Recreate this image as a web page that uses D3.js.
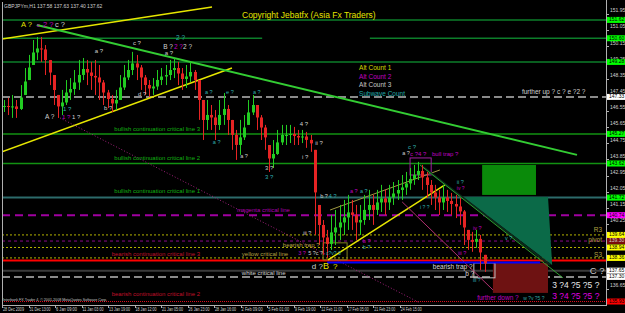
<!DOCTYPE html>
<html>
<head>
<meta charset="utf-8">
<script src="https://cdn.jsdelivr.net/npm/d3@7"></script>
<style>
  body { margin: 0; background: #000; }
  svg { display: block; font-family: "Liberation Sans", Arial, sans-serif; }
</style>
</head>
<body>
<script>
// ---- data ----
var barsPerSlot = 10;      // each candle below stands for ~10 H1 bars
var barsPerTick = 64;

var dateLabels = ["28 Dec 2009", "31 Dec 13:00", "6 Jan 09:00", "11 Jan 03:00", "13 Jan 19:00",
  "18 Jan 12:00", "21 Jan 05:00", "26 Jan 23:00", "28 Jan 16:00", "2 Feb 09:00", "5 Feb 01:00",
  "9 Feb 19:00", "12 Feb 11:00", "17 Feb 05:00", "21 Feb 23:00", "24 Feb 15:00"];

var priceTicks = [151.95, 151.05, 150.15, 149.25, 148.35, 147.45, 146.55, 145.65, 144.75,
  143.85, 142.95, 142.05, 141.15, 140.25, 136.65];

var candleHigh = [147.16, 147.27, 147.44, 147.16, 147.99, 148.94, 149.67, 150.50, 150.67, 150.67,
  150.22, 149.39, 148.55, 147.44, 147.72, 148.27, 148.38, 148.83, 149.39, 149.50,
  149.39, 149.28, 149.39, 149.11, 148.27, 147.72, 147.44, 147.72, 148.55, 149.11,
  149.39, 149.84, 149.67, 149.11, 148.55, 148.27, 148.38, 148.83, 148.94, 149.11,
  149.39, 149.50, 149.28, 148.94, 149.11, 149.28, 148.83, 148.27, 147.16, 147.16,
  146.88, 146.60, 147.16, 147.55, 146.88, 146.05, 145.49, 146.05, 146.32, 147.16,
  147.44, 146.88, 146.32, 145.77, 144.65, 144.93, 145.49, 145.77, 145.77, 145.77,
  145.66, 145.49, 145.49, 145.38, 145.21, 144.38, 141.31, 140.47, 139.92, 140.75,
  141.03, 141.31, 141.59, 141.87, 141.59, 141.31, 141.31, 141.87, 142.15, 141.87,
  142.15, 142.43, 142.15, 142.43, 142.59, 142.70, 142.98, 143.15, 143.37, 143.54,
  143.71, 143.54, 143.15, 142.70, 142.43, 142.15, 142.43, 142.15, 141.98, 141.87,
  141.70, 141.03, 139.92, 139.81, 139.92, 139.64, 138.53];

var candleLow = [146.49, 146.32, 146.16, 146.16, 146.60, 147.44, 148.27, 149.11, 149.39, 149.28,
  148.55, 147.99, 146.88, 146.16, 146.32, 146.88, 147.16, 147.44, 147.72, 148.27,
  147.99, 147.72, 147.44, 147.16, 146.88, 146.71, 146.49, 146.60, 147.16, 147.72,
  148.27, 148.55, 148.27, 147.72, 147.44, 147.33, 147.44, 147.72, 147.99, 147.99,
  148.27, 148.38, 147.99, 147.72, 147.83, 148.16, 147.72, 146.05, 144.93, 145.49,
  145.49, 144.93, 145.49, 145.77, 145.21, 144.38, 143.82, 144.10, 144.93, 145.77,
  146.32, 145.49, 144.93, 144.38, 143.15, 143.37, 144.10, 144.65, 144.65, 144.76,
  144.65, 144.65, 144.76, 144.49, 144.27, 139.64, 139.08, 138.53, 138.36, 138.81,
  139.08, 139.36, 139.64, 139.92, 139.92, 139.36, 139.64, 140.20, 140.47, 140.20,
  140.75, 140.92, 140.75, 141.03, 141.31, 141.59, 141.59, 141.87, 142.15, 142.43,
  142.70, 142.15, 141.70, 141.31, 141.03, 140.75, 141.03, 140.92, 140.75, 140.58,
  140.20, 139.08, 138.81, 138.70, 138.92, 137.69, 137.58];

// horizontal levels (price, line style, price box on the axis)
var levels = [
  { p: 151.62, stroke: "#0c7e2a", w: 1.5, box: "#00ff00" },
  { p: 150.60, stroke: "#0c7e2a", w: 1.5, box: "#00ff00", gap: [628, 888] },
  { p: 149.28, stroke: "#0c7e2a", w: 1.5, box: "#00ff00" },
  { p: 147.33, stroke: "#8a8a8a", w: 2, dash: "8,4", box: "#ffffff" },
  { p: 145.27, stroke: "#129212", w: 1.5, box: "#00ff00" },
  { p: 143.62, stroke: "#129212", w: 1.5, box: "#00ff00" },
  { p: 141.72, stroke: "#2c6b6b", w: 2, box: "#00ff00" },
  { p: 140.74, stroke: "#a000a0", w: 2, dash: "8,5", box: "#ff00ff" },
  { p: 139.64, stroke: "#b4b400", w: 1, dash: "2,2", box: "#ffff00" },
  { p: 139.30, stroke: "#8a0a8a", w: 1, dash: "3,3", box: "#7a0a0a", fg: "#d0d0d0" },
  { p: 138.94, stroke: "#b4b400", w: 1, dash: "2,2", box: "#ffff00" },
  { p: 138.36, stroke: "#b4b400", w: 1, dash: "2,2", box: "#ffff00" },
  { p: 138.22, stroke: "#ff0000", w: 2 },
  { p: 137.65, stroke: "#3a3a3a", w: 2, box: "#ffffff" },
  { p: 137.30, stroke: "#8a8a8a", w: 2, dash: "8,4", box: "#ffffff" },
  { p: 135.93, stroke: "#e01020", w: 1, dash: "1,1", box: "#ff0000" }
];

// sloped lines, in (bar, price)
var trendLines = [
  { b0: 0, p0: 150.56, b1: 507, p1: 152.34, stroke: "#e6e600", w: 1.5 },
  { b0: 0, p0: 144.27, b1: 555, p1: 148.94, stroke: "#e6e600", w: 1.5 },
  { b0: 84, p0: 151.34, b1: 1388, p1: 144.10, stroke: "#33cc33", w: 2 },
  { b0: 140, p0: 146.16, b1: 1009, p1: 135.85, stroke: "#a0207a", w: 1, dash: "1,2" },
  { b0: 787, p0: 138.25, b1: 1069, p1: 142.43, stroke: "#e6e600", w: 1.5 },
  { b0: 792, p0: 141.03, b1: 1057, p1: 143.26, stroke: "#a09a40", w: 1 },
  { b0: 966, p0: 141.48, b1: 1185, p1: 136.58, stroke: "#b03070", w: 1 },
  { b0: 785, p0: 138.10, b1: 1299, p1: 138.10, stroke: "#0000ff", w: 2 }
];

var critLabels = [
  { t: "bullish continuation critical line 3", p: 145.54, c: "#12b012" },
  { t: "bullish continuation critical line 2", p: 143.93, c: "#12b012" },
  { t: "bullish continuation critical line 1", p: 142.04, c: "#12b012" },
  { t: "bearish continuation critical line 3", p: 138.53, c: "#c0102a" },
  { t: "bearish continuation critical line 2", p: 136.30, c: "#c0102a" }
];

var waveLabels = [
  { t: "A ?", b: 46, p: 151.34, c: "#e6e600", s: 7.5 },
  { t: "c", b: 84, p: 151.34, c: "#c000c0", s: 6 },
  { t: "2 ?", b: 99, p: 151.34, c: "#c000c0", s: 7.5 },
  { t: "c ?", b: 128, p: 151.34, c: "#d0d0d0", s: 7.5 },
  { t: "2 ?", b: 420, p: 150.61, c: "#30b0b0", s: 6.5 },
  { t: "B ?", b: 389, p: 150.11, c: "#d0d0d0", s: 6.5 },
  { t: "2 ?", b: 415, p: 150.11, c: "#c000c0", s: 6.5 },
  { t: "2 ?", b: 437, p: 150.11, c: "#d0d0d0", s: 6.5 },
  { t: "c ?", b: 316, p: 150.33, c: "#d0d0d0", s: 6 },
  { t: "a ?", b: 224, p: 149.84, c: "#d0d0d0", s: 6 },
  { t: "a ?", b: 393, p: 149.78, c: "#d0d0d0", s: 6 },
  { t: "d ?", b: 328, p: 147.49, c: "#d0d0d0", s: 6 },
  { t: "b ?", b: 246, p: 146.71, c: "#d0d0d0", s: 6 },
  { t: "A ?", b: 104, p: 146.21, c: "#d0d0d0", s: 6.5 },
  { t: "1 ?", b: 147, p: 146.66, c: "#30b0b0", s: 6 },
  { t: "1 ?", b: 145, p: 146.21, c: "#c000c0", s: 6 },
  { t: "1 ?", b: 169, p: 146.21, c: "#d0d0d0", s: 6 },
  { t: "a ?", b: 490, p: 147.55, c: "#30b0b0", s: 5.5 },
  { t: "e ?", b: 541, p: 147.55, c: "#30b0b0", s: 5.5 },
  { t: "a ?", b: 606, p: 147.55, c: "#30b0b0", s: 5.5 },
  { t: "a ?", b: 509, p: 144.76, c: "#30b0b0", s: 5.5 },
  { t: "a ?", b: 575, p: 143.98, c: "#d0d0d0", s: 5.5 },
  { t: "4 ?", b: 719, p: 145.77, c: "#d0d0d0", s: 6 },
  { t: "ii ?", b: 756, p: 144.76, c: "#d0d0d0", s: 6 },
  { t: "i ?", b: 724, p: 143.98, c: "#d0d0d0", s: 6 },
  { t: "3 ?", b: 635, p: 143.32, c: "#d0d0d0", s: 6 },
  { t: "3 ?", b: 635, p: 142.87, c: "#30b0b0", s: 6 },
  { t: "a ?", b: 966, p: 144.15, c: "#d0d0d0", s: 5.5 },
  { t: "c ?", b: 980, p: 144.54, c: "#30b0b0", s: 6 },
  { t: "c ?4 ?", b: 985, p: 144.15, c: "#c000c0", s: 6 },
  { t: "bull trap ?", b: 1038, p: 144.15, c: "#c000c0", s: 6 },
  { t: "ii ?", b: 1098, p: 142.54, c: "#30b0b0", s: 5.5 },
  { t: "iv ?", b: 1098, p: 142.20, c: "#c000c0", s: 5 },
  { t: "b ?", b: 768, p: 141.76, c: "#d0d0d0", s: 5.5 },
  { t: "4 ?", b: 789, p: 141.76, c: "#30b0b0", s: 5.5 },
  { t: "a ?", b: 840, p: 142.04, c: "#c000c0", s: 5.5 },
  { t: "a ?", b: 864, p: 142.04, c: "#30b0b0", s: 5.5 },
  { t: "magenta critical line", b: 567, p: 140.98, c: "#b000b0", s: 6 },
  { t: "iii ?", b: 727, p: 139.70, c: "#d0d0d0", s: 5.5 },
  { t: "bearish trap ?", b: 678, p: 139.03, c: "#b4a040", s: 6 },
  { t: "yellow critical line", b: 579, p: 138.53, c: "#b4a040", s: 6 },
  { t: "3 ?", b: 715, p: 138.58, c: "#c000c0", s: 5.5 },
  { t: "5 ?c ?", b: 739, p: 138.58, c: "#d0d0d0", s: 5.5 },
  { t: "c?v? 3", b: 782, p: 138.58, c: "#30b0b0", s: 5 },
  { t: "d ?", b: 748, p: 137.86, c: "#d0d0d0", s: 8 },
  { t: "B", b: 775, p: 137.86, c: "#e6e600", s: 9 },
  { t: "?", b: 799, p: 137.86, c: "#e6e600", s: 8 },
  { t: "white critical line", b: 579, p: 137.52, c: "#d0d0d0", s: 6 },
  { t: "b ?", b: 871, p: 139.25, c: "#c000c0", s: 5.5 },
  { t: "b ?", b: 871, p: 138.92, c: "#30b0b0", s: 5.5 },
  { t: "i ? ?", b: 1009, p: 141.14, c: "#30b0b0", s: 5 },
  { t: "iv ?", b: 1137, p: 139.97, c: "#c000c0", s: 5.5 },
  { t: "v ?", b: 1214, p: 139.42, c: "#30b0b0", s: 5.5 },
  { t: "iii ?", b: 1101, p: 138.58, c: "#c000c0", s: 5.5 },
  { t: "bearish trap ?", b: 1040, p: 137.86, c: "#d8d8d8", s: 6.5 },
  { t: "b ?", b: 1118, p: 137.47, c: "#d8d8d8", s: 6.5 },
  { t: "iii ?", b: 1137, p: 137.08, c: "#30b0b0", s: 5 },
  { t: "C ?", b: 1419, p: 137.63, c: "#c8c8c8", s: 9.5 },
  { t: "3 ?4 ?5 ?5 ?", b: 1328, p: 136.80, c: "#e8e8e8", s: 8.5 },
  { t: "3 ?4 ?5 ?5 ?", b: 1328, p: 136.19, c: "#e000e0", s: 8.5 },
  { t: "further down ?", b: 1147, p: 136.13, c: "#c000c0", s: 6.5 },
  { t: "w ?v ?5 ?", b: 1258, p: 136.08, c: "#30a0a0", s: 5 },
  { t: "further up ? c ? e ?2 ?", b: 1255, p: 147.61, c: "#d0d0d0", s: 6.5 },
  { t: "Alt Count 1", b: 862, p: 148.94, c: "#d8d800", s: 6.5 },
  { t: "Alt Count 2", b: 862, p: 148.44, c: "#c000c0", s: 6.5 },
  { t: "Alt Count 3", b: 862, p: 147.99, c: "#c8c8c8", s: 6.5 },
  { t: "Subwave Count", b: 862, p: 147.49, c: "#20a8a8", s: 6.5 }
];

var sideLabels = [
  { t: "R3", p: 139.92, c: "#b4a040" },
  { t: "pivot", p: 139.36, c: "#b4a040" },
  { t: "S3", p: 138.53, c: "#b4a040" }
];

// boxes and zones, in (bar, price)
var zones = [
  { b0: 1159, b1: 1289, p0: 143.54, p1: 141.87, fill: "#0a8a0a", stroke: "none" },
  { b0: 1185, b1: 1318, p0: 138.08, p1: 136.41, fill: "#6e1212", stroke: "none" },
  { b0: 1139, b1: 1190, p0: 138.08, p1: 137.25, fill: "none", stroke: "#c0c0c0" },
  { b0: 775, b1: 833, p0: 139.20, p1: 138.25, fill: "none", stroke: "#808020" },
  { b0: 985, b1: 1036, p0: 143.93, p1: 142.98, fill: "none", stroke: "#a020a0" }
];
var triangle = [[1113, 141.76], [1318, 141.76], [1328, 137.97]];
var triangleEdges = [
  { b0: 1016, p0: 143.43, b1: 1323, p1: 137.97, stroke: "#0a2a1a", w: 2 },
  { b0: 1009, p0: 143.54, b1: 1354, p1: 137.25, stroke: "#30a030", w: 1 }
];

// ---- drawing ----
var width = 625, height = 313;
var x = d3.scaleLinear().domain([0, 1458]).range([2, 606]);
var y = d3.scaleLinear().domain([136.65, 151.95]).range([288.6, 14]);

var svg = d3.select('body')
  .append('svg')
  .attr('width', width)
  .attr('height', height)
  .style('background-color', '#000');

svg.append('clipPath').attr('id', 'plot')
  .append('rect').attr('x', 2).attr('y', 2).attr('width', 604).attr('height', 303);

var plot = svg.append('g').attr('clip-path', 'url(#plot)');

// horizontal levels
levels.forEach(function(d) {
  var segs = d.gap ? [[0, d.gap[0]], [d.gap[1], 1458]] : [[0, 1458]];
  segs.forEach(function(s) {
    plot.append('line')
      .attr('x1', x(s[0])).attr('x2', x(s[1]))
      .attr('y1', y(d.p)).attr('y2', y(d.p))
      .attr('stroke', d.stroke)
      .attr('stroke-width', d.w)
      .attr('stroke-dasharray', d.dash || null);
  });
});

// zones
plot.append('polygon')
  .attr('points', triangle.map(function(d) { return x(d[0]) + ',' + y(d[1]); }).join(' '))
  .attr('fill', '#0b6a48');

plot.selectAll('rect.zone')
  .data(zones)
  .enter()
  .append('rect')
  .attr('x', function(d) { return x(d.b0); })
  .attr('y', function(d) { return y(d.p0); })
  .attr('width', function(d) { return x(d.b1) - x(d.b0); })
  .attr('height', function(d) { return y(d.p1) - y(d.p0); })
  .attr('fill', function(d) { return d.fill; })
  .attr('stroke', function(d) { return d.stroke; });

plot.selectAll('line.trend')
  .data(trendLines.concat(triangleEdges))
  .enter()
  .append('line')
  .attr('x1', function(d) { return x(d.b0); })
  .attr('y1', function(d) { return y(d.p0); })
  .attr('x2', function(d) { return x(d.b1); })
  .attr('y2', function(d) { return y(d.p1); })
  .attr('stroke', function(d) { return d.stroke; })
  .attr('stroke-width', function(d) { return d.w; })
  .attr('stroke-dasharray', function(d) { return d.dash || null; });

// candles
var candles = candleHigh.map(function(h, i) {
  var mid = (h + candleLow[i]) / 2;
  var prevMid = i > 0 ? (candleHigh[i - 1] + candleLow[i - 1]) / 2 : mid;
  return { i: i, hi: h, lo: candleLow[i], open: prevMid, close: mid };
});

plot.selectAll('line.wick')
  .data(candles)
  .enter()
  .append('line')
  .attr('x1', function(d) { return Math.round(x(d.i * barsPerSlot + 5)) + 0.5; })
  .attr('x2', function(d) { return Math.round(x(d.i * barsPerSlot + 5)) + 0.5; })
  .attr('y1', function(d) { return y(d.hi); })
  .attr('y2', function(d) { return y(d.lo); })
  .attr('stroke', function(d) { return d.close >= d.open ? '#22cc22' : '#e62424'; })
  .attr('stroke-width', 1);

plot.selectAll('rect.body')
  .data(candles)
  .enter()
  .append('rect')
  .attr('x', function(d) { return Math.round(x(d.i * barsPerSlot + 5)) - 1; })
  .attr('y', function(d) { return y(Math.min(d.hi, Math.max(d.open, d.close))); })
  .attr('width', 3)
  .attr('height', function(d) {
    var top = Math.min(d.hi, Math.max(d.open, d.close));
    var bot = Math.max(d.lo, Math.min(d.open, d.close));
    return Math.max(1, y(bot) - y(top));
  })
  .attr('fill', function(d) { return d.close >= d.open ? '#22cc22' : '#e62424'; });

// critical line captions, right aligned
plot.selectAll('text.crit')
  .data(critLabels)
  .enter()
  .append('text')
  .text(function(d) { return d.t; })
  .attr('x', x(478))
  .attr('y', function(d) { return y(d.p); })
  .attr('text-anchor', 'end')
  .attr('dominant-baseline', 'middle')
  .attr('font-size', '6px')
  .attr('fill', function(d) { return d.c; });

plot.selectAll('text.wave')
  .data(waveLabels)
  .enter()
  .append('text')
  .text(function(d) { return d.t; })
  .attr('x', function(d) { return x(d.b); })
  .attr('y', function(d) { return y(d.p); })
  .attr('dominant-baseline', 'middle')
  .attr('font-size', function(d) { return d.s + 'px'; })
  .attr('fill', function(d) { return d.c; });

plot.selectAll('text.side')
  .data(sideLabels)
  .enter()
  .append('text')
  .text(function(d) { return d.t; })
  .attr('x', 602)
  .attr('y', function(d) { return y(d.p); })
  .attr('text-anchor', 'end')
  .attr('dominant-baseline', 'middle')
  .attr('font-size', '6.5px')
  .attr('fill', function(d) { return d.c; });

// fixed captions
svg.append('text').text('GBPJPYm,H1  137.58 137.63 137.40 137.62')
  .attr('x', 4).attr('y', 8).attr('font-size', '5px').attr('fill', '#d0d0d0');
svg.append('text').text('Copyright Jebatfx (Asia Fx Traders)')
  .attr('x', 242).attr('y', 18).attr('font-size', '8.5px').attr('fill', '#e6e600');
svg.append('text').text('Interbank FX Trader 4, \u00a9 2001-2008 MetaQuotes Software Corp.')
  .attr('x', 3).attr('y', 300.5).attr('font-size', '4.4px')
  .attr('textLength', 104).attr('lengthAdjust', 'spacingAndGlyphs')
  .attr('fill', '#c8c8c8');

// frame
svg.append('line').attr('x1', 2.5).attr('x2', 2.5).attr('y1', 2).attr('y2', 305)
  .attr('stroke', '#b0b0b0');
svg.append('line').attr('x1', 606.5).attr('x2', 606.5).attr('y1', 0).attr('y2', 305)
  .attr('stroke', '#b0b0b0');
svg.append('line').attr('x1', 2).attr('x2', 607).attr('y1', 305.5).attr('y2', 305.5)
  .attr('stroke', '#b0b0b0');

// price axis
var yAxis = svg.append('g');
yAxis.selectAll('line')
  .data(priceTicks)
  .enter()
  .append('line')
  .attr('x1', 606).attr('x2', 609)
  .attr('y1', function(d) { return Math.round(y(d)) + 0.5; })
  .attr('y2', function(d) { return Math.round(y(d)) + 0.5; })
  .attr('stroke', '#b0b0b0');
yAxis.selectAll('text')
  .data(priceTicks)
  .enter()
  .append('text')
  .text(function(d) { return d.toFixed(2); })
  .attr('x', 610)
  .attr('y', function(d) { return y(d) - 3; })
  .attr('dominant-baseline', 'middle')
  .attr('font-size', '5px')
  .attr('fill', '#d0d0d0');

var boxes = svg.append('g').selectAll('g')
  .data(levels.filter(function(d) { return d.box; }))
  .enter()
  .append('g');
boxes.append('rect')
  .attr('x', 607).attr('width', 18)
  .attr('y', function(d) { return y(d.p) - 3; })
  .attr('height', 6)
  .attr('fill', function(d) { return d.box; });
boxes.append('text')
  .text(function(d) { return d.p.toFixed(2); })
  .attr('x', 609)
  .attr('y', function(d) { return y(d.p); })
  .attr('dominant-baseline', 'middle')
  .attr('font-size', '5px')
  .attr('fill', function(d) { return d.fg || '#000'; });

// time axis
var xAxis = svg.append('g');
xAxis.selectAll('line')
  .data(dateLabels)
  .enter()
  .append('line')
  .attr('x1', function(d, i) { return Math.round(x(i * barsPerTick)) + 0.5; })
  .attr('x2', function(d, i) { return Math.round(x(i * barsPerTick)) + 0.5; })
  .attr('y1', 305).attr('y2', 308)
  .attr('stroke', '#b0b0b0');
xAxis.selectAll('text')
  .data(dateLabels)
  .enter()
  .append('text')
  .text(function(d) { return d; })
  .attr('x', function(d, i) { return x(i * barsPerTick) + 1; })
  .attr('y', 311)
  .attr('font-size', '4.6px')
  .attr('textLength', 21)
  .attr('lengthAdjust', 'spacingAndGlyphs')
  .attr('fill', '#d0d0d0');
</script>
</body>
</html>
